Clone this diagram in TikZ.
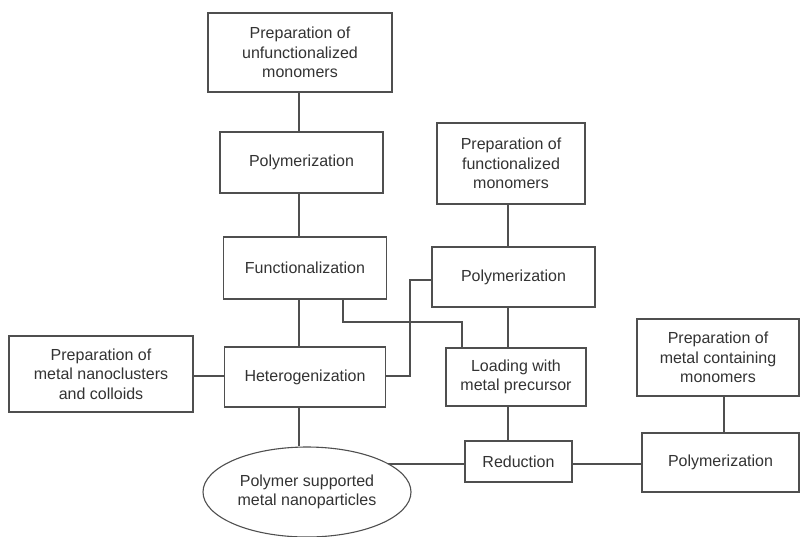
\documentclass[tikz,border=0pt]{standalone}
\usepackage{fontspec}
\setmainfont{Liberation Sans}
\usetikzlibrary{shapes.geometric,backgrounds}
\definecolor{ln}{HTML}{4F4F4F}
\definecolor{tx}{HTML}{333333}
\begin{document}
\begin{tikzpicture}[x=1pt,y=-1pt,
  box/.style={draw=ln,line width=1.1pt,fill=white,text=tx,align=center,inner sep=0pt,
    font=\fontsize{16}{19.5}\selectfont},
  conn/.style={draw=ln,line width=1.1pt}]
\useasboundingbox (0,0) rectangle (800,536);
% nodes
\node[box,minimum width=184pt,minimum height=79pt] (b1) at (300,52.5) {Preparation of\\unfunctionalized\\monomers};
\node[box,minimum width=163pt,minimum height=61pt] (p1) at (301.5,162.5) {Polymerization};
\node[box,minimum width=163pt,minimum height=62pt] (func) at (305,268) {Functionalization};
\node[box,minimum width=161pt,minimum height=60pt] (het) at (305,377) {Heterogenization};
\node[box,minimum width=184pt,minimum height=76pt] (nano) at (101,374) {Preparation of\\metal nanoclusters\\and colloids};
\node[box,ellipse,minimum width=208pt,minimum height=90pt] (ell) at (307,492) {Polymer supported\\metal nanoparticles};
\node[box,minimum width=148pt,minimum height=81pt] (pf) at (511,163.5) {Preparation of\\functionalized\\monomers};
\node[box,minimum width=163pt,minimum height=60pt] (p2) at (513.5,277) {Polymerization};
\node[box,minimum width=140pt,minimum height=58pt] (load) at (516,377) {Loading with\\metal precursor};
\node[box,minimum width=107pt,minimum height=41pt] (red) at (518.5,461.5) {Reduction};
\node[box,minimum width=162pt,minimum height=77pt] (pm) at (718,357.5) {Preparation of\\metal containing\\monomers};
\node[box,minimum width=157pt,minimum height=59pt] (p3) at (720.5,462.5) {Polymerization};
% connectors
\coordinate (vx) at (299,0);
\draw[conn] (b1.south -| vx) -- (p1.north -| vx);
\draw[conn] (p1.south -| vx) -- (func.north -| vx);
\draw[conn] (func.south -| vx) -- (het.north -| vx);
\draw[conn] (het.south -| vx) -- (ell.north -| vx);
\draw[conn] (nano.east |- 0,376) -- (het.west |- 0,376);
\coordinate (hx) at (410,0);
\draw[conn] (het.east |- 0,376) -| (hx |- 0,280) -- (p2.west |- 0,280);
\coordinate (fx) at (343,0);
\coordinate (lx) at (462,0);
\draw[conn] (func.south -| fx) |- (lx |- 0,322) -- (load.north -| lx);
\coordinate (mx) at (508,0);
\draw[conn] (pf.south -| mx) -- (p2.north -| mx);
\draw[conn] (p2.south -| mx) -- (load.north -| mx);
\draw[conn] (load.south -| mx) -- (red.north -| mx);
\begin{scope}[on background layer]
\draw[conn] (ell.center |- 0,464) -- (red.west |- 0,464);
\end{scope}
\draw[conn] (red.east |- 0,464) -- (p3.west |- 0,464);
\coordinate (px) at (724,0);
\draw[conn] (pm.south -| px) -- (p3.north -| px);
\end{tikzpicture}
\end{document}
